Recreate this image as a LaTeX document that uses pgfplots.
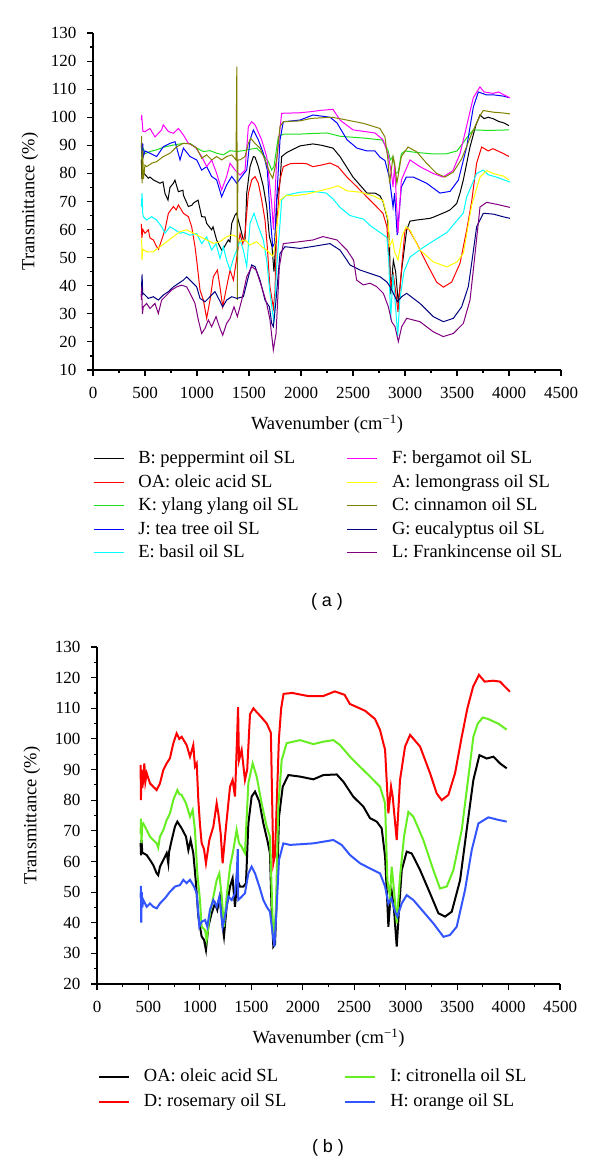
\documentclass[border=0pt]{standalone}
\usepackage{pgfplots}
\pgfplotsset{compat=1.18}
\usepackage{fontspec}
\setmainfont{Liberation Serif}
\newfontfamily\sansf{Liberation Sans}
\definecolor{cRed}{RGB}{255,0,0}
\definecolor{cGreen}{RGB}{30,225,30}
\definecolor{cBlue}{RGB}{0,0,255}
\definecolor{cCyan}{RGB}{0,255,255}
\definecolor{cMag}{RGB}{255,0,255}
\definecolor{cYel}{RGB}{255,255,0}
\definecolor{cOlive}{RGB}{128,128,0}
\definecolor{cNavy}{RGB}{0,0,128}
\definecolor{cPurple}{RGB}{128,0,128}
\definecolor{bGreen}{RGB}{102,238,34}
\definecolor{bBlue}{RGB}{51,85,255}
\newcommand\fa{\fontsize{17}{20}\selectfont}
\newcommand\fb{\fontsize{18.5}{22}\selectfont}
\pgfplotsset{
  ftir/.style={
    scale only axis,
    axis x line*=bottom, axis y line*=left,
    tick align=outside,
    major tick length=6pt, minor tick length=3pt,
    minor x tick num=1, minor y tick num=1,
    axis line style={line width=1.1pt},
    every tick/.style={line width=1.1pt, black},
    xmin=0, xmax=4500,
    xtick={0,500,...,4500},
    /pgf/number format/assume math mode=true,
    /pgf/number format/set thousands separator={},
    tick label style={font=\fa},
    xticklabel style={yshift=-8pt},
    yticklabel style={xshift=-7pt},
    label style={font=\fb},
    xlabel={Wavenumber (cm\textsuperscript{\char"2212\relax 1})},
    ylabel={Transmittance (\%)},
    xlabel style={at={(axis description cs:0.5,0)}, anchor=center, yshift=-54pt},
    legend cell align=left,
    transpose legend,
    legend image code/.code={\draw[##1] (0pt,0.3em) -- (30pt,0.3em);},
  }
}
\begin{document}
\begin{tikzpicture}
\useasboundingbox (0pt,0pt) rectangle (600pt,1163pt);
% ---------------- (a) ----------------
\begin{axis}[ftir,
  at={(93pt,793pt)}, anchor=south west,
  width=468pt, height=337pt,
  ymin=10, ymax=130, ytick={10,20,...,130},
  ylabel style={at={([xshift=-63pt]axis description cs:0,0.5)}, anchor=center},
  legend columns=5,
  legend image code/.code={\draw[#1,line width=1.4pt] (0pt,0.3em) -- (30pt,0.3em);},
  legend style={draw=none, fill=none, font=\fb, inner sep=0pt, outer sep=0pt,
    at={(axis description cs:0,0)}, anchor=north west, xshift=0pt, yshift=-80pt,
    nodes={inner sep=0pt, text height=14pt, text depth=9.5pt},
    /tikz/every odd column/.append style={column sep=14pt},
    /tikz/every even column/.append style={column sep=48pt}},
]
\addplot[black, line width=1pt] coordinates {
(465,85) (470,78) (480,81) (491,80) (532,78.3) (548,78.7) (580,77.7) (644,76.5) (673,77) (692,72.9) (721,70.5) (740,75) (773,76.5) (788,77.6) (821,73.5) (865,74) (869,72.3) (917,68.2) (952,68.7) (965,69.4) (1010,70.5) (1045,64.6) (1077,64.5) (1093,62.2) (1141,59.9) (1154,61) (1189,56.3) (1237,52.7) (1250,53) (1301,56.3) (1317,55.6) (1334,62.2) (1366,65.2) (1380,65.8) (1414,61) (1446,56.3) (1461,56) (1478,72.9) (1510,82.4) (1542,86) (1558,85.8) (1590,82.4) (1638,75.3) (1670,68.2) (1696,57.5) (1721,54) (1740,45) (1752,52) (1766,70.5) (1798,77) (1814,86) (1865,87.5) (1990,89.8) (2115,90.5) (2200,90) (2308,89) (2375,86) (2500,78.7) (2634,73) (2711,73) (2760,72) (2788,70) (2830,64) (2850,56) (2862,37) (2888,49) (2910,45) (2936,33.7) (2968,45.6) (3016,59.8) (3048,63) (3112,63.4) (3240,64) (3272,64.4) (3400,66.4) (3433,67) (3497,69.3) (3529,73) (3561,77.7) (3625,89.4) (3680,97) (3721,100.8) (3760,99.5) (3800,100) (3846,99.5) (3900,98.5) (3950,98) (4000,97)};
\addlegendentry{B: peppermint oil SL}
\addplot[cRed, line width=1pt] coordinates {
(465,62) (470,57) (480,60) (500,58.7) (532,59.9) (548,57) (580,56.3) (612,53.9) (630,53) (660,56.3) (692,59.9) (725,65.8) (773,68.2) (800,67) (821,68.8) (869,65.8) (917,64.6) (949,61) (981,53.9) (997,49.1) (1029,38.5) (1061,34.9) (1093,28.4) (1125,34.9) (1157,43.2) (1196,45.6) (1221,39.6) (1247,32.5) (1285,39.6) (1318,45.6) (1350,42) (1375,48) (1414,58.6) (1440,55) (1462,58.7) (1494,72.9) (1526,77.7) (1558,78.9) (1590,76.5) (1622,70.5) (1654,63.4) (1676,53.9) (1700,40) (1735,32) (1750,38) (1766,61) (1798,77.7) (1830,82.4) (1900,83.5) (1990,83.6) (2050,83.5) (2115,82.4) (2200,83) (2279,83.7) (2356,82.4) (2442,78.7) (2538,75.2) (2634,71.6) (2730,68) (2788,65.8) (2826,61) (2852,46) (2862,39.5) (2888,44) (2910,38) (2933,30.6) (2971,48) (3000,59.8) (3032,60.4) (3112,55.2) (3208,48) (3304,41.3) (3369,39.5) (3449,41.3) (3529,48) (3593,59.8) (3641,70) (3689,83.7) (3737,89.4) (3800,88) (3846,88.8) (3950,87) (4000,86)};
\addlegendentry{OA: oleic acid SL}
\addplot[cGreen, line width=1pt] coordinates {
(465,90) (470,85) (478,89) (484,89) (500,87) (548,87.8) (612,88.4) (676,89.3) (773,90.1) (869,90.7) (933,90.7) (997,89) (1061,87.8) (1125,88.1) (1189,87.2) (1253,86.6) (1318,88.1) (1382,87.8) (1446,88.1) (1510,88.6) (1574,89) (1638,86.6) (1686,84.2) (1718,81.2) (1740,82.4) (1782,93.1) (1830,94) (1990,94) (2100,94.2) (2250,94.4) (2380,93.2) (2600,92.6) (2780,91.9) (2836,88.3) (2859,84.8) (2885,86) (2910,80) (2935,80.5) (2965,87) (3000,88) (3100,87.5) (3250,87) (3400,87) (3500,88) (3529,89.4) (3600,93) (3657,95.5) (3800,95.3) (4000,95.5)};
\addlegendentry{K: ylang ylang oil SL}
\addplot[cBlue, line width=1pt] coordinates {
(465,91) (470,86) (478,90.7) (484,86) (500,88) (548,87.2) (612,86) (676,89.5) (741,90.7) (789,91.3) (837,84.8) (869,89) (933,86) (997,84.8) (1045,81.2) (1093,82.4) (1141,78.9) (1189,77.7) (1237,71.7) (1285,75.9) (1334,78.9) (1382,76.5) (1430,78.9) (1478,81.2) (1510,91.9) (1542,95.5) (1590,91.9) (1638,87.2) (1676,81.2) (1702,65.8) (1728,53.9) (1745,55) (1766,70.5) (1798,91.9) (1830,98.4) (1990,99) (2115,100.8) (2279,100) (2346,98) (2442,92) (2538,89) (2634,88) (2711,88) (2759,85.8) (2807,84.6) (2849,78.7) (2885,68) (2900,73) (2925,58) (2965,75.2) (3013,78.7) (3080,78.7) (3208,76.5) (3336,73) (3433,73.6) (3513,77.6) (3593,89.4) (3657,103.6) (3705,109) (3780,108) (3846,108) (3950,107.5) (4000,107)};
\addlegendentry{J: tea tree oil SL}
\addplot[cCyan, line width=1pt] coordinates {
(465,68) (468,70.5) (472,73) (478,66) (484,64.6) (516,63.4) (564,64.6) (612,63.4) (660,61) (692,58.7) (741,61) (789,59.9) (837,58.7) (869,59) (933,58) (997,58.6) (1045,55) (1093,57.4) (1141,52.7) (1183,55) (1221,49.7) (1253,53.9) (1285,49.1) (1318,45.6) (1350,49.7) (1382,52.7) (1414,56.3) (1446,52.7) (1478,46.8) (1510,62.2) (1548,65.8) (1590,61) (1638,56.3) (1670,49.1) (1702,37.3) (1728,30.1) (1740,27) (1766,46.8) (1798,62) (1814,70.5) (1862,72.3) (1990,73.3) (2115,73.6) (2243,73) (2308,70.9) (2375,67.9) (2471,65) (2602,63.7) (2666,61.4) (2759,59) (2826,57.2) (2845,48) (2862,28) (2885,44) (2910,32) (2930,22) (2950,35) (2990,45) (3048,50.2) (3150,53) (3240,55.2) (3404,59) (3561,65.9) (3593,71.6) (3689,80) (3753,81.2) (3800,79.5) (3878,78.7) (4009,76.9)};
\addlegendentry{E: basil oil SL}
\addplot[cMag, line width=1pt] coordinates {
(465,99) (468,100.8) (480,95) (500,94.9) (548,96) (596,93) (660,95.5) (676,97.3) (725,94.9) (773,94.3) (821,96) (869,93.7) (917,90.7) (981,89.5) (1045,86) (1093,82.4) (1141,84.8) (1189,80) (1237,74.1) (1285,78.9) (1318,83.6) (1366,81.2) (1414,79.4) (1462,81.2) (1494,96.7) (1526,98.4) (1558,97.3) (1622,91.9) (1670,86) (1718,69.4) (1735,60) (1766,84.8) (1814,101.4) (1990,101.6) (2100,102) (2200,102.5) (2308,102.8) (2375,99) (2500,95.5) (2711,94.4) (2788,92) (2836,87) (2870,80) (2885,75.2) (2900,83) (2933,58.8) (2965,77.6) (3048,84.8) (3144,82.4) (3270,80) (3365,78.7) (3461,81) (3529,87) (3577,94.4) (3657,107) (3721,110.8) (3760,109) (3846,108.5) (3900,109) (3950,108) (4009,106.9)};
\addlegendentry{F: bergamot oil SL}
\addplot[cYel, line width=1pt] coordinates {
(465,56) (468,56.3) (471,49.2) (480,53) (516,52.1) (580,52.1) (644,53.9) (709,55.7) (773,57.5) (837,59.3) (901,59.9) (965,58.7) (1029,57.5) (1093,56.3) (1157,55.1) (1221,55.7) (1285,57.5) (1334,58.1) (1382,57.5) (1414,55.7) (1462,56.3) (1510,54.5) (1574,55.7) (1622,53.9) (1670,52.7) (1702,51.5) (1728,50.5) (1745,53) (1766,61) (1798,70.5) (1862,72.3) (1926,72) (2051,72.6) (2179,73.8) (2308,75) (2356,75.6) (2442,73.8) (2570,73.3) (2698,72) (2788,70.3) (2836,63.7) (2852,54.2) (2880,56.3) (2900,52) (2933,49.2) (2971,57.5) (3010,61) (3048,59.8) (3144,52.7) (3272,48.5) (3404,46.7) (3500,48.5) (3561,51.5) (3641,68.7) (3721,78.7) (3785,81) (3846,80) (3950,79) (4000,77.6)};
\addlegendentry{A: lemongrass oil SL}
\addplot[cOlive, line width=1pt] coordinates {
(465,93) (468,93.1) (472,76.5) (478,88) (485,78) (500,83) (516,82.4) (564,83.6) (612,84.2) (676,86) (741,87.2) (805,89.5) (869,90.7) (933,90.5) (997,89) (1045,85.4) (1093,86.6) (1141,84.8) (1189,86) (1237,84.8) (1285,86) (1334,86.6) (1375,84.8) (1383,118) (1388,35) (1393,84.8) (1414,84.8) (1462,86) (1494,90.7) (1516,92.5) (1558,90.7) (1606,89) (1654,84.8) (1702,80) (1728,78.3) (1766,84.8) (1798,96.7) (1830,98.4) (1990,98.7) (2100,99.6) (2300,100) (2442,99) (2602,97.8) (2759,96) (2807,93) (2836,84.8) (2852,76.5) (2885,86) (2900,83.6) (2922,76.5) (2965,86) (3029,89.4) (3112,87.7) (3208,83.6) (3304,80) (3384,78.7) (3465,80.5) (3545,85.2) (3641,94.1) (3721,100.6) (3753,102.4) (3850,101.8) (3950,101.5) (4009,101.2)};
\addlegendentry{C: cinnamon oil SL}
\addplot[cNavy, line width=1pt] coordinates {
(465,36) (468,40.8) (472,44) (478,37) (484,37.3) (532,35.5) (580,36.1) (628,34.9) (676,36.7) (725,37.9) (773,39.6) (821,40.8) (869,42) (901,43.2) (949,41.4) (997,39.6) (1029,35.5) (1077,34.3) (1125,36.1) (1173,37.9) (1215,34.9) (1247,32.5) (1285,34.9) (1334,36.1) (1382,35.5) (1446,36.1) (1494,43.2) (1526,47.4) (1558,46.8) (1606,42) (1654,34.9) (1696,32.5) (1718,26.6) (1734,25.4) (1760,34.9) (1798,51.5) (1846,53.9) (1990,53.3) (2115,54) (2279,55) (2375,52.7) (2442,49.1) (2471,47.4) (2567,45.6) (2663,44.4) (2760,43.2) (2824,41.4) (2856,39.7) (2888,37.3) (2926,34.3) (2968,36.1) (3016,37.3) (3144,33.7) (3272,29) (3368,27.2) (3465,28.4) (3545,32.5) (3609,39.7) (3641,48) (3689,61) (3753,65.8) (3850,65.5) (3950,64.5) (4009,64)};
\addlegendentry{G: eucalyptus oil SL}
\addplot[cPurple, line width=1pt] coordinates {
(465,35) (468,39.6) (475,30) (484,32.5) (516,33.7) (548,31.9) (596,33.7) (628,30.1) (660,34.9) (709,36.7) (757,38.5) (805,39.6) (853,40.2) (901,39.6) (933,37.3) (981,33.7) (1013,27.8) (1045,23) (1077,24.8) (1109,27.8) (1141,25.4) (1183,29) (1215,25.4) (1247,22.4) (1285,26.6) (1318,28.4) (1356,32.5) (1388,29) (1430,34.9) (1478,43.2) (1526,46.8) (1568,45.6) (1622,39.6) (1670,33.7) (1702,27.8) (1734,17.1) (1760,23) (1792,46.8) (1830,55) (1990,55.7) (2115,56.3) (2211,57.5) (2346,56.3) (2442,52.7) (2506,49.1) (2535,42) (2599,40.3) (2663,40.9) (2727,39.7) (2792,37.3) (2840,32.5) (2872,27.2) (2904,25.4) (2936,20.1) (2968,25.4) (3016,28.4) (3144,27.2) (3272,23.6) (3368,21.9) (3465,23) (3561,26.6) (3625,34.9) (3657,45.6) (3721,68) (3785,69.7) (3882,69) (4009,67.9)};
\addlegendentry{L: Frankincense oil SL}
\end{axis}
\node[font=\sansf\fontsize{18}{20}\selectfont] at (327pt,561pt) {( a )};
% ---------------- (b) ----------------
\begin{axis}[ftir,
  at={(97pt,179pt)}, anchor=south west,
  width=463pt, height=337pt,
  ymin=20, ymax=130, ytick={20,30,...,130},
  ylabel style={at={([xshift=-65pt]axis description cs:0,0.5)}, anchor=center},
  legend columns=2,
  legend style={draw=none, fill=none, font=\fb, inner sep=0pt, outer sep=0pt,
    at={(axis description cs:0,0)}, anchor=north west, xshift=1pt, yshift=-83pt,
    nodes={inner sep=0pt, text height=14.5pt, text depth=10.5pt},
    /tikz/every odd column/.append style={column sep=14pt},
    /tikz/every even column/.append style={column sep=58pt}},
]
\addplot[black, line width=2pt] coordinates {
(424,66) (428,62) (432,67) (440,63) (450,62.7) (483,62.1) (515,60.5) (547,58.8) (580,56.1) (595,55.5) (612,58.3) (645,60.5) (677,62.7) (693,59.4) (700,63) (726,67) (758,71.4) (781,73) (800,72) (823,70.8) (865,68.1) (888,63.7) (910,67) (936,62.7) (962,52.9) (985,42) (1017,35.5) (1040,34.4) (1059,31.1) (1082,38.7) (1114,43.1) (1147,46.3) (1169,44.2) (1195,48.5) (1221,38.7) (1234,35.5) (1260,45.2) (1293,51.8) (1318,54.5) (1341,45.2) (1364,54) (1390,51.8) (1422,51.8) (1448,52.9) (1471,72.4) (1503,81.2) (1536,82.8) (1578,79.5) (1617,72.4) (1655,67) (1681,62.7) (1698,43.1) (1714,32.2) (1730,33) (1746,47.4) (1769,74.6) (1805,84.4) (1860,88.2) (1973,87.7) (2103,86.8) (2200,88.2) (2330,88.4) (2395,86) (2492,81.1) (2589,77.9) (2654,74.1) (2719,73) (2767,70.8) (2800,61.6) (2822,46.3) (2832,38.7) (2848,46.3) (2865,50) (2887,44.2) (2913,32.2) (2939,46.3) (2962,57.2) (3010,63.2) (3059,62.6) (3140,57.2) (3237,49.6) (3318,43.1) (3383,42) (3448,43.6) (3529,53.9) (3593,70.3) (3658,86.6) (3717,94.7) (3788,93.6) (3853,94.2) (3917,92) (3982,90.4)};
\addlegendentry{OA: oleic acid SL}
\addplot[cRed, line width=2pt] coordinates {
(424,91.5) (427,80) (432,90) (440,84) (450,86.6) (460,92) (470,86) (483,88.8) (515,85.5) (547,84.4) (580,83.3) (612,85.5) (645,89.9) (677,92) (709,93.7) (742,98.6) (774,101.8) (800,100) (823,100.7) (871,98) (904,94.2) (936,98) (952,91) (969,92) (985,80) (1001,72) (1017,66) (1040,64) (1059,59.4) (1092,67) (1131,71.4) (1163,79) (1179,75.7) (1202,69.2) (1221,59.4) (1254,71.4) (1293,84.4) (1318,86.6) (1341,81.2) (1360,99) (1371,110.4) (1380,93) (1406,96.4) (1438,86.6) (1460,90) (1487,108) (1520,110) (1545,109) (1600,107) (1650,105) (1690,102) (1714,59.4) (1730,62) (1746,77.9) (1768,100) (1790,110) (1813,114.7) (1897,115) (2049,114) (2199,114) (2312,115.5) (2406,114.4) (2458,111.4) (2605,109.2) (2702,106.5) (2751,102.9) (2800,96.4) (2832,75.7) (2858,84.4) (2874,81.1) (2913,67) (2945,86.6) (2994,97.5) (3043,101.3) (3140,97.5) (3237,88.8) (3302,82.2) (3350,80) (3415,81.7) (3480,88.8) (3545,100.7) (3600,110) (3655,117) (3712,120.9) (3768,118.7) (3850,119) (3917,118.7) (4013,115.4)};
\addlegendentry{D: rosemary oil SL}
\addplot[bGreen, line width=2pt] coordinates {
(424,69) (427,74) (432,66) (440,72) (450,72.4) (483,70.3) (515,68.1) (547,67) (580,65.9) (595,64.5) (612,68.1) (645,70.3) (677,73.5) (709,75.7) (742,80.1) (781,83.3) (800,82) (823,81.7) (865,79) (904,74.6) (930,76.8) (952,70.3) (975,56.1) (1001,47.4) (1017,38.7) (1050,37.6) (1066,34.4) (1098,43.1) (1131,48.5) (1163,53.9) (1189,56.1) (1212,48.5) (1234,38.7) (1260,48.5) (1293,58.3) (1325,63.7) (1357,70.3) (1380,66) (1406,64.8) (1438,62.7) (1471,85.5) (1513,92) (1552,87.7) (1600,79) (1649,71.4) (1681,68.1) (1707,40.9) (1720,34.4) (1740,45.2) (1762,77.9) (1795,93.1) (1843,98.6) (1973,99.6) (2103,98.3) (2200,99.1) (2297,99.6) (2362,98) (2459,94.2) (2557,90.9) (2654,87.7) (2751,84.4) (2800,79) (2822,53.9) (2848,48.5) (2864,58.3) (2887,50.7) (2913,39.8) (2945,55) (2984,68.1) (3026,76.2) (3075,74.6) (3172,67) (3269,57.2) (3334,51.2) (3399,51.8) (3464,57.2) (3545,70.3) (3610,87.7) (3658,100.7) (3700,105) (3750,107) (3800,106.5) (3900,105) (3982,103)};
\addlegendentry{I: citronella oil SL}
\addplot[bBlue, line width=2pt] coordinates {
(424,48) (427,52) (430,40) (435,50) (440,45) (450,47.4) (483,45.2) (515,46.3) (547,45.2) (580,44.7) (612,46.3) (661,48) (709,50.1) (758,51.8) (807,52.3) (839,54) (871,52.9) (904,54) (943,51.8) (969,49.6) (995,38.7) (1017,40.3) (1050,40.9) (1072,38.7) (1098,44.2) (1131,47.4) (1163,45.2) (1189,48.5) (1221,38.7) (1244,42) (1276,48.5) (1309,47.4) (1341,49.6) (1360,57) (1368,64) (1373,47.4) (1406,48.5) (1438,49.6) (1471,56.1) (1503,58.3) (1536,56.1) (1578,51.8) (1617,47.4) (1649,45.2) (1681,43.6) (1707,36.5) (1724,32.2) (1746,45.2) (1769,60.5) (1811,65.9) (1876,65.4) (2103,65.9) (2297,67) (2378,65.4) (2459,62.1) (2557,59.4) (2654,57.7) (2751,56.1) (2800,51.8) (2832,46.3) (2860,48) (2897,43.6) (2919,42) (2962,46.3) (3010,49) (3075,47.4) (3172,43.6) (3269,39.8) (3367,35.4) (3431,36) (3496,38.7) (3577,50.7) (3642,63.7) (3707,72.4) (3804,74.4) (3885,73.7) (3982,73)};
\addlegendentry{H: orange oil SL}
\end{axis}
\node[font=\sansf\fontsize{18}{20}\selectfont] at (328pt,15pt) {( b )};
\end{tikzpicture}
\end{document}
